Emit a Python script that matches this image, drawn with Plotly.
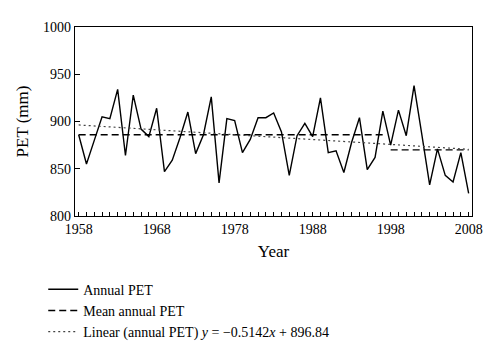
import numpy as np
import plotly.graph_objects as go

years = list(range(1958, 2009))
annual_pet = [886, 855, 880, 905, 903, 934, 864, 928, 892, 884,
              914, 847, 859, 883, 910, 866, 886, 926, 835, 903,
              901, 867, 881, 904, 904, 909, 889, 843, 885, 898,
              884, 925, 867, 869, 846, 878, 904, 849, 862, 911,
              875, 912, 885, 938, 886, 833, 871, 843, 836, 867, 824]
break_year = 1997          # mean computed separately for 1958-1997 and 1998-2008
slope = -0.5142
intercept = 896.84
y_ticks = [800, 850, 900, 950, 1000]
x_ticks = [1958, 1968, 1978, 1988, 1998, 2008]

yrs = np.array(years)
pet = np.array(annual_pet, dtype=float)
m1 = pet[yrs <= break_year].mean()
m2 = pet[yrs > break_year].mean()
mean_x = [1958, break_year, None, break_year + 1, 2008]
mean_y = [m1, m1, None, m2, m2]
idx = np.arange(1, len(years) + 1)
trend = slope * idx + intercept

FONT = "Liberation Serif"
fig = go.Figure()
fig.add_trace(go.Scatter(x=years, y=annual_pet, mode="lines", name="Annual PET",
                         line=dict(color="black", width=1.4)))
fig.add_trace(go.Scatter(x=mean_x, y=mean_y, mode="lines", name="Mean annual PET",
                         line=dict(color="black", width=1.4, dash="7px,4px")))
fig.add_trace(go.Scatter(x=years, y=trend, mode="lines",
                         name="Linear (annual PET) <i>y</i> = −0.5142<i>x</i> + 896.84",
                         line=dict(color="#444", width=1.2, dash="2px,3px")))

fig.update_layout(
    width=500, height=360,
    margin=dict(l=67, r=36, t=19, b=152, autoexpand=False),
    paper_bgcolor="white", plot_bgcolor="white",
    font=dict(family=FONT, size=14, color="black"),
    showlegend=True,
    legend=dict(x=-0.08, y=-0.305, xanchor="left", yanchor="top",
                font=dict(family=FONT, size=14), bgcolor="rgba(0,0,0,0)",
                itemwidth=30, tracegroupgap=0),
    xaxis=dict(range=[1957.53, 2008.43], tickvals=x_ticks, ticks="inside", ticklen=4,
               tickcolor="black", showline=True, linecolor="black", linewidth=1.2,
               mirror=True, showgrid=False, zeroline=False,
               minor=dict(dtick=1, tick0=1958, ticks="inside", ticklen=4, tickcolor="black"),
               title=dict(text="Year", standoff=9),
               tickfont=dict(family=FONT, size=14)),
    yaxis=dict(range=[800, 1000], tickvals=y_ticks, ticks="inside", ticklen=5,
               tickcolor="black", showline=True, linecolor="black", linewidth=1.2,
               mirror=True, showgrid=False, zeroline=False,
               title=dict(text="PET (mm)", standoff=10),
               tickfont=dict(family=FONT, size=14)),
)
fig.write_html("out.html")
